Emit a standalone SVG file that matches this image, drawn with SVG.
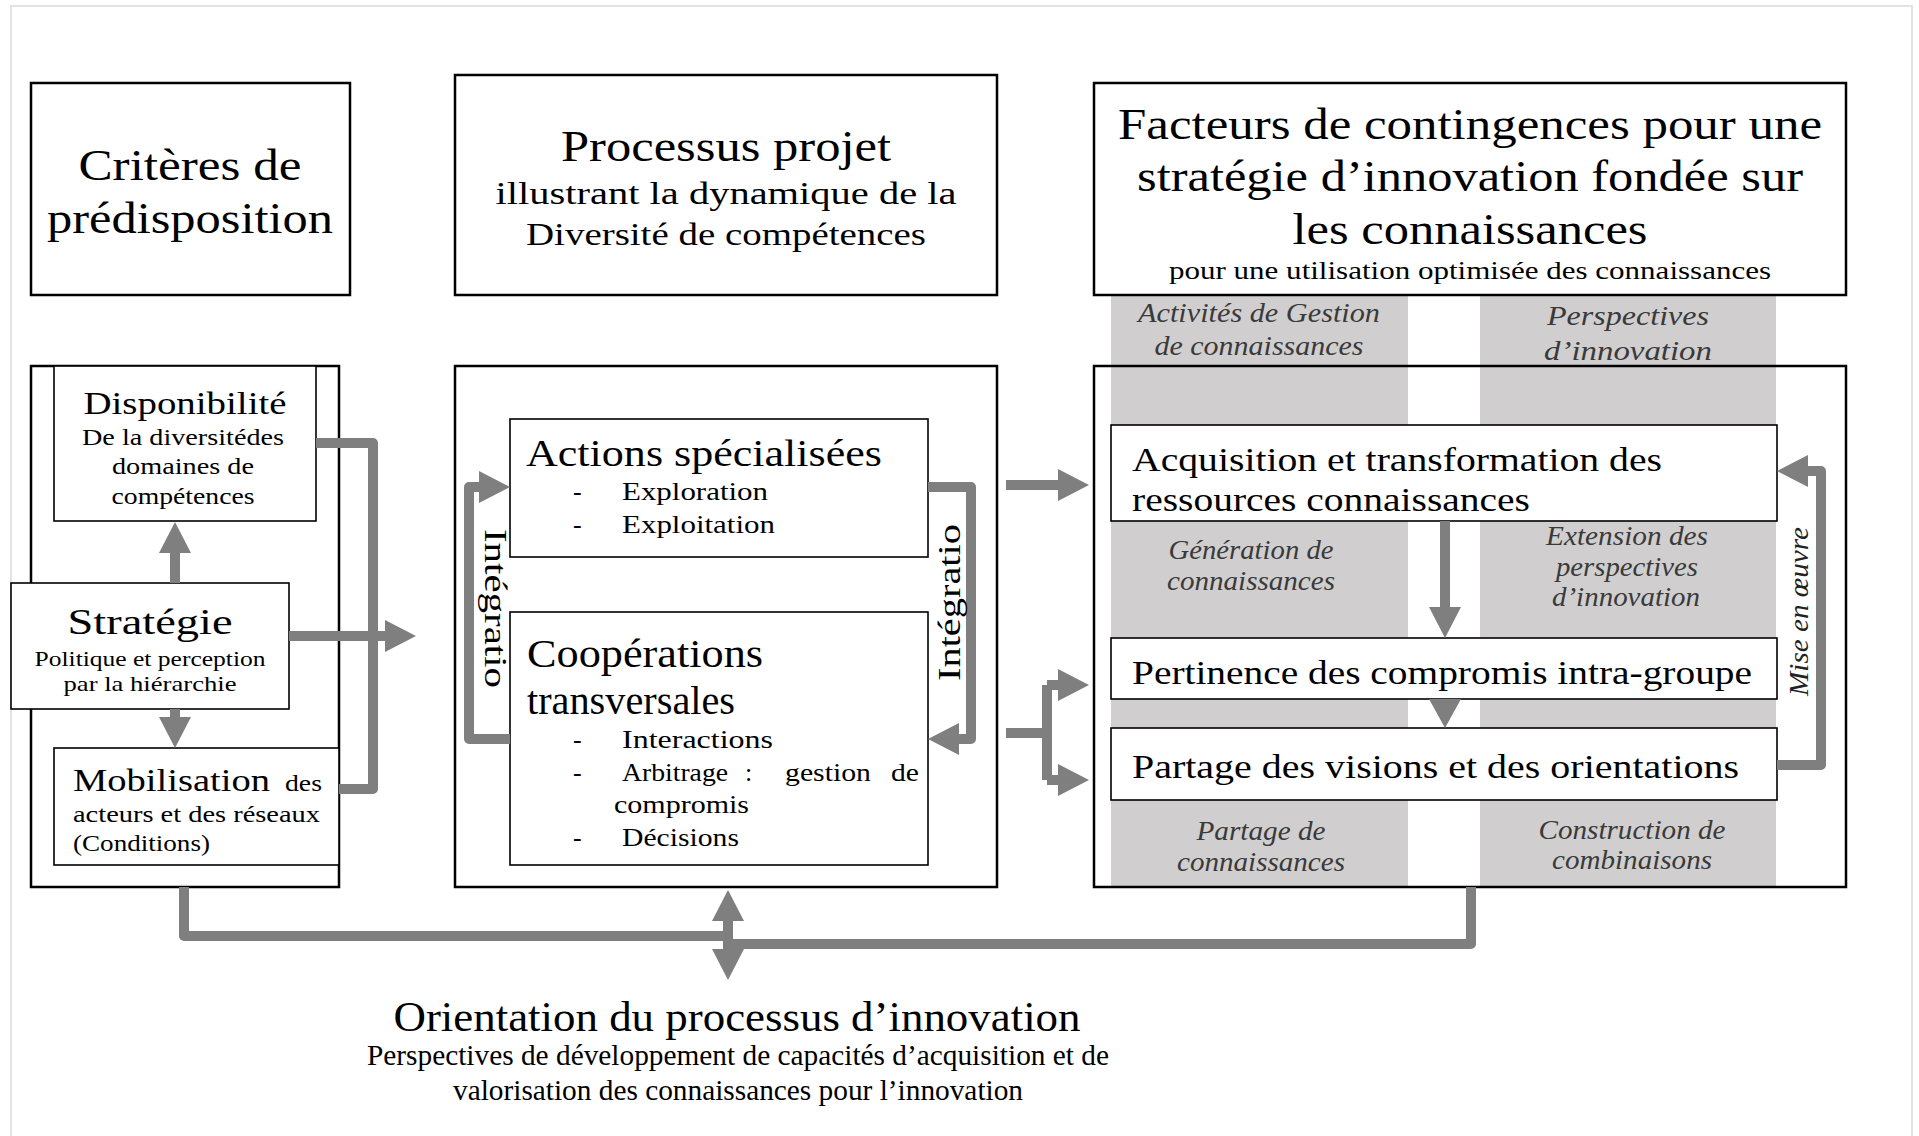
<svg xmlns="http://www.w3.org/2000/svg" width="1919" height="1136" viewBox="0 0 1919 1136">
<style>
text{font-family:"Liberation Serif","DejaVu Serif",serif;fill:#000}
.box{fill:#fff;stroke:#000;stroke-width:2.5}
.outer{fill:none;stroke:#000;stroke-width:2.5}
.inner{fill:#fff;stroke:#000;stroke-width:1.6}
.col{fill:#d0cece}
.lab{font-style:italic;fill:#3a3a3a;font-size:27px}
.conn{fill:none;stroke:#7f7f7f;stroke-width:10;stroke-linejoin:round}
.arr{marker-end:url(#ah)}
.head{fill:#7f7f7f}
.c{text-anchor:middle}
</style>
<defs>
<marker id="ah" markerUnits="userSpaceOnUse" markerWidth="31" markerHeight="32" refX="1" refY="16" orient="auto-start-reverse">
<path d="M0,0 L31,16 L0,32 z" fill="#7f7f7f"/>
</marker>
</defs>
<rect x="11" y="6" width="1901" height="1135" fill="#fff" stroke="#e3e3e3" stroke-width="2"/>

<g id="columns">
<rect class="col" x="1111" y="295" width="297" height="592"/>
<rect class="col" x="1480" y="295" width="296" height="592"/>
</g>

<g id="criteres">
<rect class="box" x="31" y="83" width="319" height="212"/>
<text class="c" x="190" y="180" font-size="44" textLength="223" lengthAdjust="spacingAndGlyphs">Critères de</text>
<text class="c" x="190" y="233" font-size="44" textLength="286" lengthAdjust="spacingAndGlyphs">prédisposition</text>
</g>

<g id="processus">
<rect class="box" x="455" y="75" width="542" height="220"/>
<text class="c" x="726" y="161" font-size="44" textLength="330" lengthAdjust="spacingAndGlyphs">Processus projet</text>
<text class="c" x="726" y="204" font-size="32" textLength="461" lengthAdjust="spacingAndGlyphs">illustrant la dynamique de la</text>
<text class="c" x="726" y="245" font-size="32" textLength="400" lengthAdjust="spacingAndGlyphs">Diversité de compétences</text>
</g>

<g id="facteurs">
<rect class="box" x="1094" y="83" width="752" height="212"/>
<text class="c" x="1470" y="139" font-size="44" textLength="704" lengthAdjust="spacingAndGlyphs">Facteurs de contingences pour une</text>
<text class="c" x="1470" y="191" font-size="44" textLength="666" lengthAdjust="spacingAndGlyphs">stratégie d’innovation fondée sur</text>
<text class="c" x="1470" y="244" font-size="44" textLength="355" lengthAdjust="spacingAndGlyphs">les connaissances</text>
<text class="c" x="1470" y="279" font-size="26" textLength="602" lengthAdjust="spacingAndGlyphs">pour une utilisation optimisée des connaissances</text>
</g>

<g id="column-labels">
<text class="lab c" x="1259" y="322" textLength="242" lengthAdjust="spacingAndGlyphs">Activités de Gestion</text>
<text class="lab c" x="1259" y="355" textLength="209" lengthAdjust="spacingAndGlyphs">de connaissances</text>
<text class="lab c" x="1628" y="325" textLength="162" lengthAdjust="spacingAndGlyphs">Perspectives</text>
<text class="lab c" x="1628" y="360" textLength="168" lengthAdjust="spacingAndGlyphs">d’innovation</text>
<text class="lab c" x="1251" y="559" textLength="165" lengthAdjust="spacingAndGlyphs">Génération de</text>
<text class="lab c" x="1251" y="590" textLength="168" lengthAdjust="spacingAndGlyphs">connaissances</text>
<text class="lab c" x="1627" y="545" textLength="162" lengthAdjust="spacingAndGlyphs">Extension des</text>
<text class="lab c" x="1627" y="576" textLength="142" lengthAdjust="spacingAndGlyphs">perspectives</text>
<text class="lab c" x="1626" y="606" textLength="148" lengthAdjust="spacingAndGlyphs">d’innovation</text>
<text class="lab c" x="1261" y="840" textLength="129" lengthAdjust="spacingAndGlyphs">Partage de</text>
<text class="lab c" x="1261" y="871" textLength="168" lengthAdjust="spacingAndGlyphs">connaissances</text>
<text class="lab c" x="1632" y="839" textLength="187" lengthAdjust="spacingAndGlyphs">Construction de</text>
<text class="lab c" x="1632" y="869" textLength="160" lengthAdjust="spacingAndGlyphs">combinaisons</text>
</g>

<g id="bloc-gauche">
<rect class="outer" x="31" y="366" width="308" height="521"/>
</g>
<g id="disponibilite">
<rect class="inner" x="54" y="366" width="262" height="155"/>
<text class="c" x="185" y="414" font-size="32" textLength="203" lengthAdjust="spacingAndGlyphs">Disponibilité</text>
<text class="c" x="183" y="445" font-size="24" textLength="202" lengthAdjust="spacingAndGlyphs">De la diversitédes</text>
<text class="c" x="183" y="474" font-size="24" textLength="142" lengthAdjust="spacingAndGlyphs">domaines de</text>
<text class="c" x="183" y="504" font-size="24" textLength="143" lengthAdjust="spacingAndGlyphs">compétences</text>
</g>
<g id="strategie">
<rect class="inner" x="11" y="583" width="278" height="126" stroke-width="2"/>
<text class="c" x="150" y="634" font-size="36" textLength="165" lengthAdjust="spacingAndGlyphs">Stratégie</text>
<text class="c" x="150" y="666" font-size="22" textLength="231" lengthAdjust="spacingAndGlyphs">Politique et perception</text>
<text class="c" x="150" y="691" font-size="22" textLength="173" lengthAdjust="spacingAndGlyphs">par la hiérarchie</text>
</g>
<g id="mobilisation">
<rect class="inner" x="54" y="748" width="285" height="117"/>
<text x="73" y="791" font-size="32" textLength="197" lengthAdjust="spacingAndGlyphs">Mobilisation</text>
<text x="285" y="791" font-size="23" textLength="37" lengthAdjust="spacingAndGlyphs">des</text>
<text x="73" y="822" font-size="24" textLength="247" lengthAdjust="spacingAndGlyphs">acteurs et des réseaux</text>
<text x="73" y="851" font-size="24" textLength="137" lengthAdjust="spacingAndGlyphs">(Conditions)</text>
</g>

<g id="bloc-milieu">
<rect class="outer" x="455" y="366" width="542" height="521"/>
</g>
<g id="actions">
<rect class="inner" x="510" y="419" width="418" height="138" stroke-width="2"/>
<text x="526" y="466" font-size="38" textLength="356" lengthAdjust="spacingAndGlyphs">Actions spécialisées</text>
<text x="573" y="500" font-size="26">-</text>
<text x="622" y="500" font-size="26" textLength="146" lengthAdjust="spacingAndGlyphs">Exploration</text>
<text x="573" y="533" font-size="26">-</text>
<text x="622" y="533" font-size="26" textLength="153" lengthAdjust="spacingAndGlyphs">Exploitation</text>
</g>
<g id="cooperations">
<rect class="inner" x="510" y="612" width="418" height="253" stroke-width="2"/>
<text x="527" y="667" font-size="40" textLength="236" lengthAdjust="spacingAndGlyphs">Coopérations</text>
<text x="527" y="714" font-size="40" textLength="208" lengthAdjust="spacingAndGlyphs">transversales</text>
<text x="573" y="748" font-size="26">-</text>
<text x="622" y="748" font-size="26" textLength="151" lengthAdjust="spacingAndGlyphs">Interactions</text>
<text x="573" y="781" font-size="26">-</text>
<text x="622" y="781" font-size="26" textLength="106" lengthAdjust="spacingAndGlyphs">Arbitrage</text>
<text x="745" y="781" font-size="26">:</text>
<text x="785" y="781" font-size="26" textLength="86" lengthAdjust="spacingAndGlyphs">gestion</text>
<text x="891" y="781" font-size="26" textLength="28" lengthAdjust="spacingAndGlyphs">de</text>
<text x="614" y="813" font-size="26" textLength="135" lengthAdjust="spacingAndGlyphs">compromis</text>
<text x="573" y="846" font-size="26">-</text>
<text x="622" y="846" font-size="26" textLength="117" lengthAdjust="spacingAndGlyphs">Décisions</text>
</g>

<g id="bloc-droite">
<rect class="outer" x="1094" y="366" width="752" height="521"/>
</g>
<g id="acquisition">
<rect class="inner" x="1111" y="425" width="666" height="96" stroke-width="2"/>
<text x="1132" y="471" font-size="34" textLength="530" lengthAdjust="spacingAndGlyphs">Acquisition et transformation des</text>
<text x="1132" y="511" font-size="34" textLength="398" lengthAdjust="spacingAndGlyphs">ressources connaissances</text>
</g>
<g id="pertinence">
<rect class="inner" x="1111" y="638" width="666" height="61" stroke-width="2"/>
<text x="1132" y="684" font-size="34" textLength="620" lengthAdjust="spacingAndGlyphs">Pertinence des compromis intra-groupe</text>
</g>
<g id="partage">
<rect class="inner" x="1111" y="728" width="666" height="72" stroke-width="2"/>
<text x="1132" y="778" font-size="34" textLength="607" lengthAdjust="spacingAndGlyphs">Partage des visions et des orientations</text>
</g>

<g id="orientation">
<text class="c" x="737" y="1031" font-size="42" textLength="687" lengthAdjust="spacingAndGlyphs">Orientation du processus d’innovation</text>
<text class="c" x="738" y="1065" font-size="30" textLength="742" lengthAdjust="spacingAndGlyphs">Perspectives de développement de capacités d’acquisition et de</text>
<text class="c" x="738" y="1100" font-size="30" textLength="570" lengthAdjust="spacingAndGlyphs">valorisation des connaissances pour l’innovation</text>
</g>

<g id="connectors">
<path class="conn" d="M316,443 H373 V789 H339"/>
<path class="conn arr" d="M289,636 H386"/>
<path class="conn arr" d="M175,583 V552"/>
<path class="conn arr" d="M175,709 V718"/>
<path class="conn arr" d="M510,739 H469 V487 H480"/>
<path class="conn arr" d="M928,487 H971 V739 H958"/>
<path class="conn arr" d="M1006,485 H1059"/>
<path class="conn" d="M1006,733 H1047 M1047,685 V780"/>
<path class="conn arr" d="M1047,685 H1059"/>
<path class="conn arr" d="M1047,780 H1059"/>
<path class="conn arr" d="M1445,521 V608"/>
<polygon class="head" points="1429,699 1461,699 1445,728"/>
<path class="conn arr" d="M1777,765 H1821 V471 H1807"/>
<path class="conn" d="M184,887 V936 H728"/>
<path class="conn" d="M1471,887 V944 H728"/>
<path class="conn" style="marker-start:url(#ah);marker-end:url(#ah)" d="M728,920 V950"/>
<text x="0" y="0" font-size="32" textLength="159" lengthAdjust="spacingAndGlyphs" transform="translate(485,529) rotate(90)">Intégratio</text>
<text x="0" y="0" font-size="32" textLength="157" lengthAdjust="spacingAndGlyphs" transform="translate(960,681) rotate(-90)">Intégratio</text>
<text class="lab" x="0" y="0" font-size="27" textLength="169" lengthAdjust="spacingAndGlyphs" transform="translate(1808,696) rotate(-90)" style="fill:#222">Mise en œuvre</text>
</g>
</svg>
